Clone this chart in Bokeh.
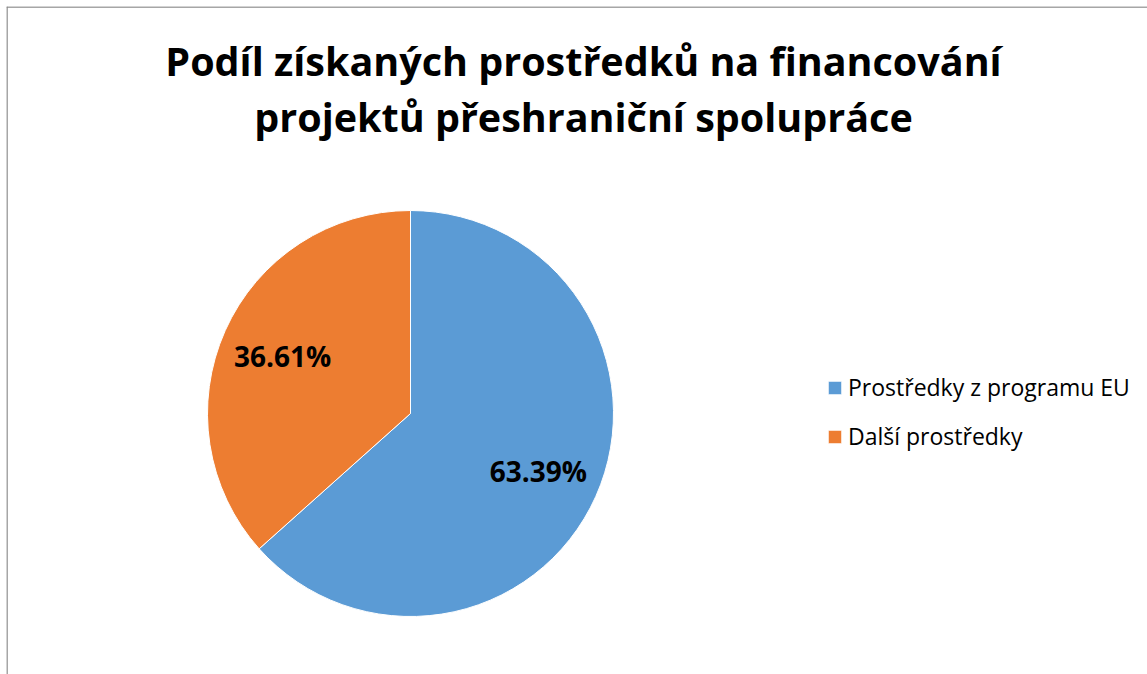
import numpy as np
from bokeh.plotting import figure
from bokeh.models import Label, Legend, LegendItem, ColumnDataSource, Range1d, Span
from bokeh.core.properties import value
from bokeh.embed import file_html
from bokeh.resources import INLINE

# ---- data ----
title_lines = ["Podíl získaných prostředků na financování", "projektů přeshraniční spolupráce"]
categories = ["Prostředky z programu EU", "Další prostředky"]
shares = [63.39, 36.61]
colors = ["#5B9BD5", "#ED7D31"]

W, H = 1147, 674
FW, FH = W - 6, H - 6
p = figure(width=W, height=H, output_backend="svg", toolbar_location=None,
           x_range=Range1d(0, FW), y_range=Range1d(0, FH),
           min_border_left=6, min_border_top=6, min_border_right=0, min_border_bottom=0,
           match_aspect=False)
p.axis.visible = False
p.grid.visible = False
p.outline_line_color = None
p.background_fill_color = "white"
p.border_fill_color = "white"

p.add_layout(Span(location=FH - 0.5, dimension="width", line_color="#888888", line_width=1.5))
p.add_layout(Span(location=0.5, dimension="height", line_color="#888888", line_width=1.5))

cx, cy, R = 404, 261, 203
frac = np.array(shares) / sum(shares)
cum = np.concatenate([[0], np.cumsum(frac)])
start = np.pi / 2 - 2 * np.pi * cum[:-1]
end = np.pi / 2 - 2 * np.pi * cum[1:]
mid = (start + end) / 2

src = ColumnDataSource(dict(x=[cx] * len(shares), y=[cy] * len(shares),
                            start=start, end=end, color=colors, cat=categories))
r = p.wedge(x="x", y="y", radius=R, radius_units="screen",
            start_angle="start", end_angle="end", direction="clock",
            fill_color="color", line_color="white", line_width=1, source=src)

lab = ColumnDataSource(dict(x=cx + 0.69 * R * np.cos(mid), y=cy + 0.69 * R * np.sin(mid),
                            t=["%.2f%%" % s for s in shares]))
p.text(x="x", y="y", text="t", source=lab, text_align="center", text_baseline="middle",
       text_font=value("Open Sans"), text_font_style="bold", text_font_size="28px",
       text_color="black")

for line, yy in zip(title_lines, [614, 558]):
    p.add_layout(Label(x=577, y=yy, text=line,
                       text_align="center", text_baseline="alphabetic",
                       text_font="Open Sans", text_font_style="bold",
                       text_font_size="39.5px", text_color="black"))

legend = Legend(items=[LegendItem(label=c, renderers=[r], index=i) for i, c in enumerate(categories)],
                location=(820, 222), padding=0, margin=0, border_line_color=None,
                background_fill_alpha=0, glyph_width=17, glyph_height=17,
                label_standoff=5, label_text_font="Open Sans", label_text_font_size="23px",
                label_text_color="black", spacing=17, label_height=20)
p.add_layout(legend, "center")

open("out.html", "w").write(file_html(p, INLINE))
